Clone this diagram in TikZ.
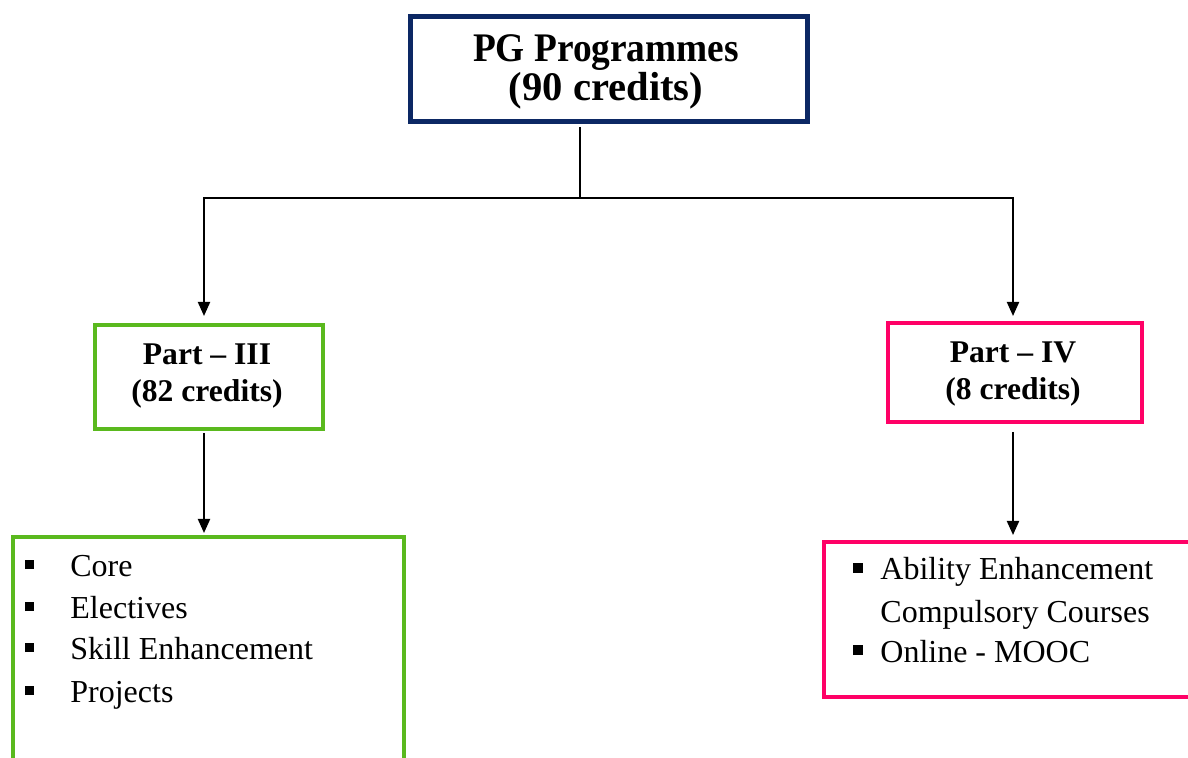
\documentclass[tikz,border=0pt]{standalone}
\usepackage{fontspec}
\setmainfont{Liberation Serif}
\usetikzlibrary{arrows.meta}
\definecolor{navy}{RGB}{12,40,100}
\definecolor{lgreen}{RGB}{90,185,30}
\definecolor{hpink}{RGB}{255,0,102}
\newcommand{\lbul}{\makebox[22.5pt][l]{\rule[3.5pt]{4.5pt}{4.5pt}}}
\newcommand{\rbul}{\makebox[13.5pt][l]{\rule[3.5pt]{4.8pt}{4.8pt}}}
\begin{document}
\begin{tikzpicture}[x=0.5pt,y=-0.5pt,
  box/.style={draw, rectangle, inner sep=0pt, anchor=north west},
  conn/.style={line width=1pt, black},
  arr/.style={conn, -{Triangle[width=6pt,length=7pt]}},
  ttl/.style={anchor=base, inner sep=0pt, font=\fontsize{20.3}{24}\selectfont\bfseries},
  prt/.style={anchor=base, inner sep=0pt, font=\fontsize{15.8}{19}\selectfont\bfseries},
  itm/.style={anchor=base west, inner sep=0pt, font=\fontsize{16}{19}\selectfont},
]
\useasboundingbox (0,0) rectangle (1188,758);
% boxes
\node[box, draw=navy, line width=2.5pt, minimum width=198.5pt, minimum height=52.5pt] (top) at (407.5,14.5) {};
\node[box, draw=lgreen, line width=2pt, minimum width=114pt, minimum height=52pt] (p3) at (93,323) {};
\node[box, draw=hpink, line width=2pt, minimum width=127pt, minimum height=49.5pt] (p4) at (886,321) {};
\node[box, draw=lgreen, line width=2pt, minimum width=195.5pt, minimum height=142.5pt] (l3) at (11,535) {};
\node[box, draw=hpink, line width=2pt, minimum width=214pt, minimum height=77.5pt] (l4) at (822,540) {};
% texts
\node[ttl] (t1) at (606,62) {\scalebox{0.92}[1]{PG Programmes}};
\node[ttl] (t2) at (606,101) {(90 credits)};
\node[prt] (a1) at (207,365) {Part – III};
\node[prt] (a2) at (207,402) {(82 credits)};
\node[prt] (b1) at (1013,363) {Part – IV};
\node[prt] (b2) at (1013,400) {(8 credits)};
\node[itm] (c1) at (25,576) {\lbul Core};
\node[itm] (c2) at (25,618) {\lbul Electives};
\node[itm] (c3) at (25,659) {\lbul Skill Enhancement};
\node[itm] (c4) at (25,702) {\lbul Projects};
\node[itm] (d1) at (853,580) {\rbul Ability Enhancement};
\node[itm] (d2) at (880,622) {Compulsory Courses};
\node[itm] (d3) at (853,662) {\rbul Online - MOOC};
% connectors
\coordinate (jt) at (580,198);
\coordinate (jl) at (204,198);
\coordinate (jr) at (1013,198);
\draw[conn] ([yshift=-1.25pt]top.south -| jt) -- (jt);
\draw[conn] ([xshift=-0.5pt]jl) -- ([xshift=0.5pt]jr);
\draw[arr] (jl) -- ([yshift=3.5pt]p3.north -| jl);
\draw[arr] (jr) -- ([yshift=2.5pt]p4.north -| jr);
\draw[arr] ([yshift=-1pt]p3.south -| jl) -- ([yshift=1pt]l3.north -| jl);
\draw[arr] ([yshift=-4pt]p4.south -| jr) -- ([yshift=2.5pt]l4.north -| jr);
\end{tikzpicture}
\end{document}
